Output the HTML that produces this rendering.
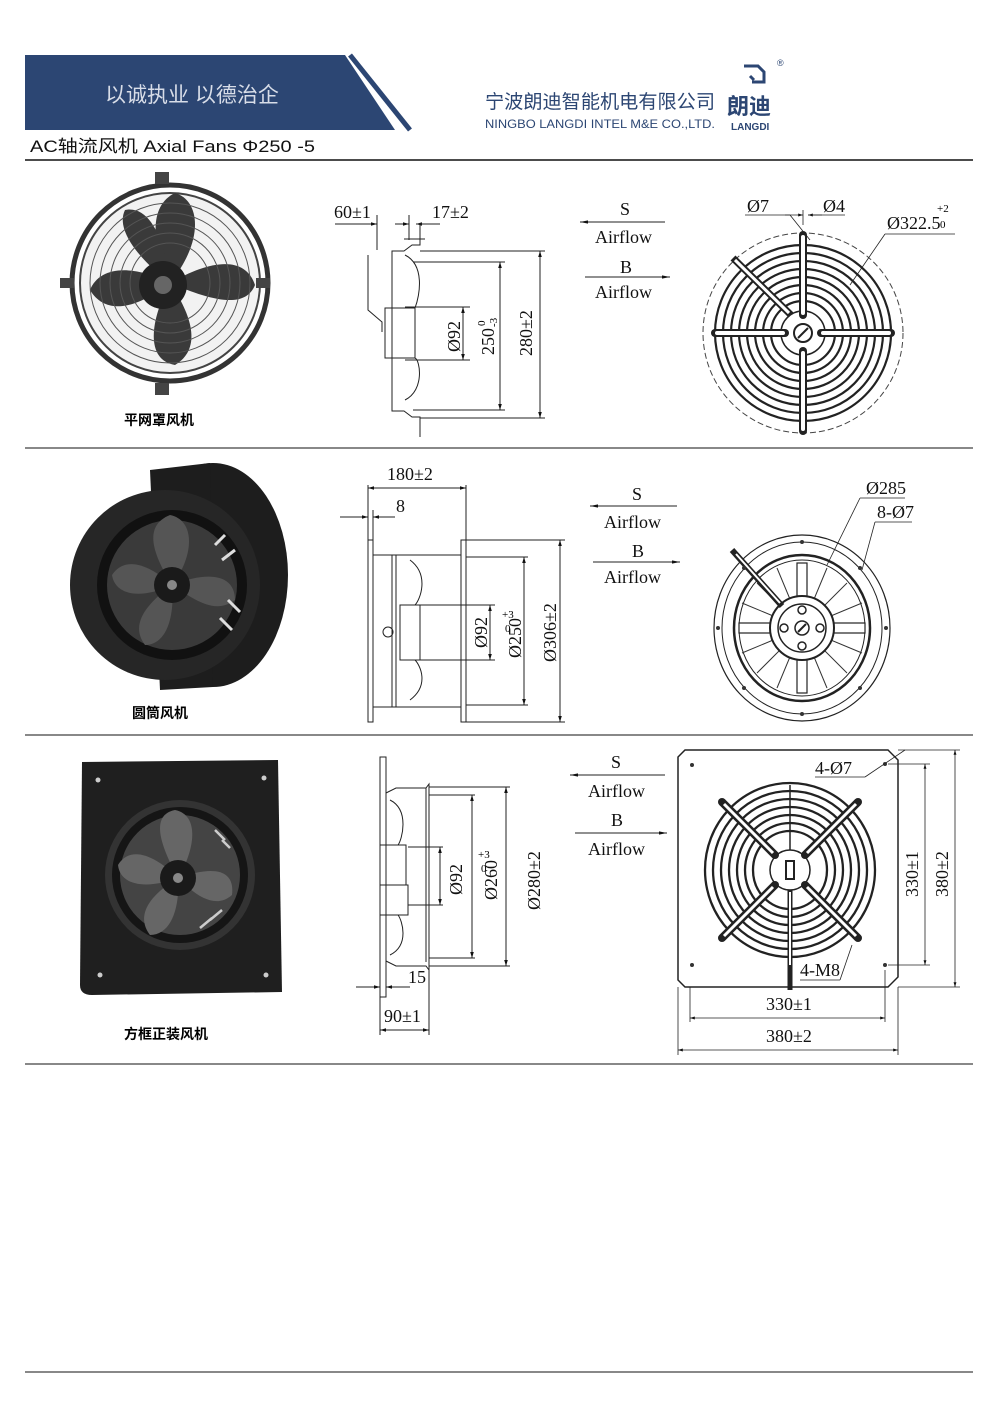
<!DOCTYPE html>
<html><head><meta charset="utf-8"><style>
html,body{margin:0;padding:0;background:#fff}
svg{display:block}
.d{font-family:"Liberation Serif",serif;font-size:18px;fill:#111}
.l{stroke:#222;stroke-width:1;fill:none}
.t{stroke:#222;stroke-width:0.8;fill:none}
</style></head><body>
<svg width="1000" height="1413" viewBox="0 0 1000 1413" xmlns="http://www.w3.org/2000/svg">
<defs>
<marker id="a" viewBox="0 0 10 10" refX="10" refY="5" markerWidth="8" markerHeight="6" orient="auto-start-reverse"><path d="M0,2 L10,5 L0,8z" fill="#111"/></marker>
<marker id="b" viewBox="0 0 10 10" refX="10" refY="5" markerWidth="14" markerHeight="8" orient="auto-start-reverse"><path d="M0,3 L10,5 L0,7z" fill="#111"/></marker>
</defs>
<!-- header -->
<polygon points="25,55 345,55 395,130 25,130" fill="#2c4673"/>
<line x1="350" y1="55" x2="410" y2="130" stroke="#2c4673" stroke-width="5"/>
<text x="105" y="102" font-family="'Liberation Sans','Noto Sans CJK SC',sans-serif" font-size="21" fill="#d8dde8">以诚执业 以德治企</text>
<text x="485" y="108" font-family="'Liberation Sans','Noto Sans CJK SC',sans-serif" font-size="19" fill="#2c4673" textLength="230" lengthAdjust="spacingAndGlyphs">宁波朗迪智能机电有限公司</text>
<text x="485" y="128" font-family="'Liberation Sans',sans-serif" font-size="11.5" fill="#2c4673" textLength="230" lengthAdjust="spacingAndGlyphs">NINGBO LANGDI INTEL M&amp;E CO.,LTD.</text>
<path d="M744,66 h14 l6,6 v10 h-12 M750,76 l4,4" stroke="#2c4673" stroke-width="3" fill="none"/>
<text x="727" y="114" font-family="'Noto Sans CJK SC',sans-serif" font-size="22" font-weight="bold" fill="#2c4673">朗迪</text>
<text x="731" y="130" font-family="'Liberation Sans',sans-serif" font-size="10" font-weight="bold" fill="#2c4673">LANGDI</text>
<text x="777" y="66" font-family="'Liberation Sans',sans-serif" font-size="9" fill="#2c4673">®</text>
<text x="30" y="152" font-family="'Liberation Sans','Noto Sans CJK SC',sans-serif" font-size="17" fill="#111" textLength="285" lengthAdjust="spacingAndGlyphs">AC轴流风机  Axial Fans   Φ250 -5</text>
<line x1="25" y1="160" x2="973" y2="160" stroke="#111" stroke-width="1.5"/>
<line x1="25" y1="448" x2="973" y2="448" stroke="#111" stroke-width="1"/>
<line x1="25" y1="735" x2="973" y2="735" stroke="#111" stroke-width="1"/>
<line x1="25" y1="1064" x2="973" y2="1064" stroke="#111" stroke-width="1"/>
<line x1="25" y1="1372" x2="973" y2="1372" stroke="#111" stroke-width="1"/>

<!-- ============ Section 1 ============ -->
<g>
<circle cx="170" cy="283" r="98" fill="none" stroke="#333" stroke-width="5"/>
<circle cx="170" cy="283" r="90" fill="#f2f2f2" stroke="#444" stroke-width="2"/>
<g fill="#3a3a3a">
<path d="M170,283 C150,240 150,205 175,193 C200,200 205,240 170,283z"/>
<path d="M170,283 C210,260 245,255 255,285 C245,310 210,300 170,283z"/>
<path d="M170,283 C195,320 200,350 175,365 C145,360 150,320 170,283z"/>
<path d="M170,283 C135,310 105,315 90,290 C100,265 135,265 170,283z"/>
<path d="M170,283 C140,260 115,230 125,210 C150,205 165,240 170,283z"/>
</g>
<g fill="none" stroke="#555" stroke-width="1">
<circle cx="170" cy="283" r="80"/><circle cx="170" cy="283" r="70"/><circle cx="170" cy="283" r="60"/><circle cx="170" cy="283" r="50"/><circle cx="170" cy="283" r="40"/>
</g>
<circle cx="163" cy="285" r="24" fill="#222"/><circle cx="163" cy="285" r="9" fill="#666"/>
<rect x="155" y="172" width="14" height="12" fill="#444"/><rect x="155" y="383" width="14" height="12" fill="#444"/>
<rect x="60" y="278" width="14" height="10" fill="#444"/><rect x="256" y="278" width="14" height="10" fill="#444"/>
<text x="124" y="425" font-family="'Noto Sans CJK SC',sans-serif" font-size="14" font-weight="bold">平网罩风机</text>
</g>
<!-- side view 1 -->
<g class="l">
<path d="M420,225 v20 h-8 l-8,6 h-12 v160 h12 l8,6 h8 v20"/>
<line x1="392" y1="251" x2="392" y2="411" stroke-dasharray="2,2"/>
<path d="M368,255 v55 l14,12 v10"/>
<path d="M385,308 h30 v50 h-30 z" />
<path d="M405,255 c20,10 15,40 10,53 M405,400 c20,-10 15,-40 10,-42"/>
<line x1="404" y1="239" x2="425" y2="239"/>
<line x1="420" y1="251" x2="545" y2="251"/>
<line x1="413" y1="262" x2="505" y2="262"/>
<line x1="413" y1="410" x2="505" y2="410"/>
<line x1="420" y1="418" x2="545" y2="418"/>
<line x1="405" y1="307" x2="470" y2="307"/>
<line x1="405" y1="360" x2="470" y2="360"/>
<line x1="377" y1="215" x2="377" y2="250"/><line x1="409" y1="215" x2="409" y2="240"/>
<line x1="335" y1="224" x2="377" y2="224" marker-end="url(#a)"/>
<line x1="395" y1="224" x2="409" y2="224" marker-end="url(#a)"/>
<line x1="430" y1="224" x2="416" y2="224" marker-end="url(#a)"/>
<line x1="416" y1="224" x2="440" y2="224"/>
<line x1="463" y1="307" x2="463" y2="360" marker-start="url(#a)" marker-end="url(#a)"/>
<line x1="500" y1="262" x2="500" y2="410" marker-start="url(#a)" marker-end="url(#a)"/>
<line x1="540" y1="251" x2="540" y2="418" marker-start="url(#a)" marker-end="url(#a)"/>
</g>
<text class="d" x="334" y="218">60±1</text>
<text class="d" x="432" y="218">17±2</text>
<text class="d" transform="translate(460,352) rotate(-90)">Ø92</text>
<g transform="translate(494,355) rotate(-90)"><text class="d" x="0" y="0">250</text><text x="29" y="-9" font-family="Liberation Serif" font-size="11">0</text><text x="28" y="3" font-family="Liberation Serif" font-size="11">-3</text></g>
<text class="d" transform="translate(532,356) rotate(-90)">280±2</text>
<!-- airflow 1 -->
<text class="d" x="620" y="215">S</text>
<line x1="665" y1="222" x2="580" y2="222" class="l" marker-end="url(#b)"/>
<text class="d" x="595" y="243">Airflow</text>
<text class="d" x="620" y="273">B</text>
<line x1="585" y1="277" x2="670" y2="277" class="l" marker-end="url(#b)"/>
<text class="d" x="595" y="298">Airflow</text>
<!-- front 1 -->
<g transform="translate(803,333)">
<circle r="100" fill="none" stroke="#444" stroke-dasharray="6,3"/>
<g fill="none" stroke="#222" stroke-width="2.2">
<circle r="88"/><circle r="80"/><circle r="72"/><circle r="64"/><circle r="56"/><circle r="48"/><circle r="40"/><circle r="32"/>
</g>
<circle r="22" fill="#fff" stroke="#222" stroke-width="1.5"/>
<g stroke="#222" stroke-width="8" stroke-linecap="round"><line x1="0" y1="-18" x2="0" y2="-98"/><line x1="0" y1="18" x2="0" y2="98"/><line x1="-18" y1="0" x2="-88" y2="0"/><line x1="18" y1="0" x2="88" y2="0"/></g>
<g stroke="#fff" stroke-width="4" stroke-linecap="round"><line x1="0" y1="-20" x2="0" y2="-96"/><line x1="0" y1="20" x2="0" y2="96"/><line x1="-20" y1="0" x2="-86" y2="0"/><line x1="20" y1="0" x2="86" y2="0"/></g>
<line x1="-70" y1="-75" x2="-12" y2="-18" stroke="#222" stroke-width="7"/><line x1="-68" y1="-73" x2="-14" y2="-20" stroke="#fff" stroke-width="3"/>
<circle r="9" fill="#fff" stroke="#222" stroke-width="2"/><line x1="-5" y1="5" x2="5" y2="-5" stroke="#222" stroke-width="2"/>
</g>
<g class="t">
<line x1="745" y1="215" x2="790" y2="215"/><line x1="790" y1="215" x2="810" y2="240"/>
<line x1="785" y1="215" x2="803" y2="215" marker-end="url(#a)"/><line x1="822" y1="215" x2="808" y2="215" marker-end="url(#a)"/><line x1="808" y1="215" x2="845" y2="215"/>
<line x1="803" y1="210" x2="803" y2="225"/>
<line x1="885" y1="234" x2="955" y2="234"/><line x1="885" y1="234" x2="850" y2="285"/>
</g>
<text class="d" x="747" y="212">Ø7</text>
<text class="d" x="823" y="212">Ø4</text>
<text class="d" x="887" y="229">Ø322.5</text><text x="937" y="212" font-family="Liberation Serif" font-size="11">+2</text><text x="940" y="228" font-family="Liberation Serif" font-size="11">0</text>

<!-- ============ Section 2 ============ -->
<g>
<ellipse cx="213" cy="575" rx="75" ry="112" fill="#1d1d1d"/>
<path d="M150,470 L210,463 L213,687 L160,690 z" fill="#1d1d1d"/>
<circle cx="165" cy="585" r="95" fill="#262626"/>
<circle cx="172" cy="585" r="75" fill="#111"/>
<circle cx="172" cy="585" r="65" fill="#3a3a3a"/>
<g fill="#555">
<path d="M172,585 C150,550 145,525 170,515 C195,520 195,555 172,585z"/>
<path d="M172,585 C210,570 235,575 235,600 C215,615 195,600 172,585z"/>
<path d="M172,585 C175,620 165,645 145,645 C130,625 145,605 172,585z"/>
<path d="M172,585 C140,600 115,595 112,575 C125,555 150,565 172,585z"/>
</g>
<g stroke="#ddd" stroke-width="3"><line x1="215" y1="545" x2="225" y2="535"/><line x1="222" y1="560" x2="235" y2="550"/><line x1="228" y1="600" x2="240" y2="612"/><line x1="220" y1="618" x2="232" y2="630"/></g>
<circle cx="172" cy="585" r="18" fill="#1a1a1a"/><circle cx="172" cy="585" r="5" fill="#888"/>
<text x="132" y="718" font-family="'Noto Sans CJK SC',sans-serif" font-size="14" font-weight="bold">圆筒风机</text>
</g>
<g class="l">
<rect x="368" y="540" width="5" height="182"/><rect x="461" y="540" width="5" height="182"/>
<line x1="373" y1="555" x2="461" y2="555"/><line x1="373" y1="707" x2="461" y2="707"/>
<line x1="392" y1="555" x2="392" y2="707"/><line x1="396" y1="555" x2="396" y2="707"/>
<path d="M400,605 h20 v55 h-20z"/><path d="M410,560 c20,15 10,40 5,45 M410,700 c20,-15 10,-35 5,-40"/>
<circle cx="388" cy="632" r="5"/>
<line x1="368" y1="485" x2="368" y2="540"/><line x1="466" y1="485" x2="466" y2="540"/>
<line x1="368" y1="488" x2="466" y2="488" marker-start="url(#a)" marker-end="url(#a)"/>
<line x1="340" y1="517" x2="368" y2="517" marker-end="url(#a)"/><line x1="395" y1="517" x2="373" y2="517" marker-end="url(#a)"/>
<line x1="373" y1="510" x2="373" y2="540"/>
<line x1="466" y1="540" x2="565" y2="540"/><line x1="466" y1="722" x2="565" y2="722"/>
<line x1="466" y1="557" x2="528" y2="557"/><line x1="466" y1="705" x2="528" y2="705"/>
<line x1="420" y1="605" x2="495" y2="605"/><line x1="420" y1="660" x2="495" y2="660"/>
<line x1="490" y1="605" x2="490" y2="660" marker-start="url(#a)" marker-end="url(#a)"/>
<line x1="524" y1="557" x2="524" y2="705" marker-start="url(#a)" marker-end="url(#a)"/>
<line x1="560" y1="540" x2="560" y2="722" marker-start="url(#a)" marker-end="url(#a)"/>
</g>
<text class="d" x="387" y="480">180±2</text>
<text class="d" x="396" y="512">8</text>
<text class="d" transform="translate(487,648) rotate(-90)">Ø92</text>
<text class="d" transform="translate(521,658) rotate(-90)">Ø250</text><text x="502" y="618" font-family="Liberation Serif" font-size="11">+3</text><text x="505" y="632" font-family="Liberation Serif" font-size="11">0</text>
<text class="d" transform="translate(556,662) rotate(-90)">Ø306±2</text>
<text class="d" x="632" y="500">S</text>
<line x1="677" y1="506" x2="590" y2="506" class="l" marker-end="url(#b)"/>
<text class="d" x="604" y="528">Airflow</text>
<text class="d" x="632" y="557">B</text>
<line x1="593" y1="562" x2="680" y2="562" class="l" marker-end="url(#b)"/>
<text class="d" x="604" y="583">Airflow</text>
<g transform="translate(802,628)">
<ellipse rx="88" ry="93" fill="none" stroke="#222" stroke-width="1.2"/>
<ellipse rx="80" ry="86" fill="none" stroke="#222" stroke-width="1"/>
<ellipse rx="68" ry="73" fill="none" stroke="#222" stroke-width="2.5"/>
<ellipse rx="63" ry="68" fill="none" stroke="#222" stroke-width="1"/>
<g stroke="#333" stroke-width="1"><line x1="0" y1="-65" x2="0" y2="65"/><line x1="-60" y1="0" x2="60" y2="0"/><line x1="-45" y1="-45" x2="45" y2="45"/><line x1="45" y1="-45" x2="-45" y2="45"/><line x1="-25" y1="-60" x2="25" y2="60"/><line x1="25" y1="-60" x2="-25" y2="60"/><line x1="-60" y1="-25" x2="60" y2="25"/><line x1="60" y1="-25" x2="-60" y2="25"/></g>
<g fill="#fff" stroke="#222" stroke-width="1.2"><rect x="-5" y="-65" width="10" height="130"/><rect x="-63" y="-5" width="126" height="10"/></g>
<circle r="32" fill="#fff" stroke="#222" stroke-width="2"/><circle r="24" fill="#fff" stroke="#222" stroke-width="1.5"/>
<circle r="7" fill="#fff" stroke="#222" stroke-width="1.5"/><line x1="-4" y1="4" x2="4" y2="-4" stroke="#222" stroke-width="2"/>
<g fill="#fff" stroke="#222" stroke-width="1.5"><circle cx="0" cy="-18" r="4"/><circle cx="0" cy="18" r="4"/><circle cx="-18" cy="0" r="4"/><circle cx="18" cy="0" r="4"/></g>
<line x1="-70" y1="-78" x2="-20" y2="-22" stroke="#222" stroke-width="6"/><line x1="-66" y1="-74" x2="-22" y2="-25" stroke="#fff" stroke-width="2"/>
<g fill="#333"><circle cx="0" cy="-86" r="2"/><circle cx="0" cy="86" r="2"/><circle cx="-84" cy="0" r="2"/><circle cx="84" cy="0" r="2"/><circle cx="58" cy="-60" r="2"/><circle cx="-58" cy="60" r="2"/><circle cx="58" cy="60" r="2"/><circle cx="-58" cy="-60" r="2"/></g>
</g>
<g class="t"><line x1="860" y1="498" x2="905" y2="498"/><line x1="860" y1="498" x2="827" y2="565"/><line x1="875" y1="522" x2="912" y2="522"/><line x1="875" y1="522" x2="862" y2="570"/></g>
<text class="d" x="866" y="494">Ø285</text>
<text class="d" x="877" y="518">8-Ø7</text>

<!-- ============ Section 3 ============ -->
<g>
<path d="M82,762 L278,760 L282,992 L92,995 Q80,995 80,985 z" fill="#1f1f1f"/>
<circle cx="180" cy="875" r="75" fill="#333"/>
<circle cx="180" cy="875" r="68" fill="#151515"/>
<circle cx="180" cy="875" r="60" fill="#444"/>
<g fill="#666">
<path d="M178,878 C160,845 150,815 175,810 C200,815 195,850 178,878z"/>
<path d="M178,878 C215,865 235,870 232,895 C215,910 195,895 178,878z"/>
<path d="M178,878 C180,910 170,935 150,935 C135,915 150,895 178,878z"/>
<path d="M178,878 C145,890 120,885 118,865 C130,845 155,855 178,878z"/>
</g>
<g stroke="#ccc" stroke-width="2.5"><line x1="215" y1="830" x2="225" y2="840"/><line x1="222" y1="840" x2="230" y2="848"/><line x1="210" y1="920" x2="222" y2="910"/><line x1="200" y1="928" x2="212" y2="918"/></g>
<circle cx="178" cy="878" r="18" fill="#1a1a1a"/><circle cx="178" cy="878" r="5" fill="#888"/>
<g fill="#ccc"><circle cx="98" cy="780" r="2.5"/><circle cx="264" cy="778" r="2.5"/><circle cx="100" cy="975" r="2.5"/><circle cx="266" cy="975" r="2.5"/></g>
<text x="124" y="1039" font-family="'Noto Sans CJK SC',sans-serif" font-size="14" font-weight="bold">方框正装风机</text>
</g>
<g class="l">
<path d="M380,757 h6 v240 h-6 z"/>
<path d="M386,793 l10,-5 h30 l3,-4 v186 l-3,-4 h-30 l-10,-5"/>
<line x1="426" y1="788" x2="426" y2="962"/>
<path d="M380,845 h26 v40 h-26 M380,885 h28 v30 h-28"/>
<path d="M390,800 c20,10 12,40 8,45 M390,955 c20,-10 12,-35 8,-40"/>
<line x1="429" y1="787" x2="510" y2="787"/><line x1="429" y1="966" x2="510" y2="966"/>
<line x1="429" y1="795" x2="475" y2="795"/><line x1="429" y1="958" x2="475" y2="958"/>
<line x1="408" y1="847" x2="443" y2="847"/><line x1="408" y1="905" x2="443" y2="905"/>
<line x1="440" y1="847" x2="440" y2="905" marker-start="url(#a)" marker-end="url(#a)"/>
<line x1="472" y1="795" x2="472" y2="958" marker-start="url(#a)" marker-end="url(#a)"/>
<line x1="506" y1="787" x2="506" y2="966" marker-start="url(#a)" marker-end="url(#a)"/>
<line x1="356" y1="987" x2="380" y2="987" marker-end="url(#a)"/><line x1="410" y1="987" x2="386" y2="987" marker-end="url(#a)"/>
<line x1="380" y1="997" x2="380" y2="1035"/><line x1="429" y1="970" x2="429" y2="1035"/>
<line x1="380" y1="1030" x2="429" y2="1030" marker-start="url(#a)" marker-end="url(#a)"/>
</g>
<text class="d" x="408" y="983">15</text>
<text class="d" x="384" y="1022">90±1</text>
<text class="d" transform="translate(462,895) rotate(-90)">Ø92</text>
<text class="d" transform="translate(497,900) rotate(-90)">Ø260</text><text x="478" y="858" font-family="Liberation Serif" font-size="11">+3</text><text x="481" y="872" font-family="Liberation Serif" font-size="11">0</text>
<text class="d" transform="translate(540,910) rotate(-90)">Ø280±2</text>
<text class="d" x="611" y="768">S</text>
<line x1="665" y1="775" x2="570" y2="775" class="l" marker-end="url(#b)"/>
<text class="d" x="588" y="797">Airflow</text>
<text class="d" x="611" y="826">B</text>
<line x1="575" y1="833" x2="667" y2="833" class="l" marker-end="url(#b)"/>
<text class="d" x="588" y="855">Airflow</text>
<path d="M685,750 H888 L898,760 V977 L888,987 H685 L678,980 V757 z" fill="none" stroke="#222" stroke-width="1.5"/>
<g fill="#333"><circle cx="692" cy="765" r="2"/><circle cx="885" cy="764" r="2"/><circle cx="692" cy="965" r="2"/><circle cx="885" cy="965" r="2"/></g>
<g transform="translate(790,870)">
<g fill="none" stroke="#222" stroke-width="2.3">
<ellipse rx="85" ry="87"/><ellipse rx="77" ry="79"/><ellipse rx="69" ry="71"/><ellipse rx="61" ry="63"/><ellipse rx="53" ry="55"/><ellipse rx="45" ry="47"/><ellipse rx="37" ry="39"/>
</g>
<circle r="20" fill="#fff" stroke="#222" stroke-width="1.5"/>
<g stroke="#222" stroke-width="8" stroke-linecap="round"><line x1="-15" y1="-15" x2="-68" y2="-68"/><line x1="15" y1="-15" x2="68" y2="-68"/><line x1="-15" y1="15" x2="-68" y2="68"/><line x1="15" y1="15" x2="68" y2="68"/></g>
<g stroke="#fff" stroke-width="3"><line x1="-17" y1="-17" x2="-66" y2="-66"/><line x1="17" y1="-17" x2="66" y2="-66"/><line x1="-17" y1="17" x2="-66" y2="66"/><line x1="17" y1="17" x2="66" y2="66"/></g>
<line x1="0" y1="20" x2="0" y2="120" stroke="#222" stroke-width="5"/><line x1="0" y1="22" x2="0" y2="95" stroke="#fff" stroke-width="2"/>
<line x1="0" y1="-20" x2="0" y2="-85" stroke="#222" stroke-width="1.5"/>
<rect x="-4" y="-9" width="8" height="18" fill="#fff" stroke="#222" stroke-width="2"/>
</g>
<g class="t">
<line x1="690" y1="987" x2="690" y2="1022"/><line x1="885" y1="970" x2="885" y2="1022"/>
<line x1="690" y1="1018" x2="885" y2="1018" marker-start="url(#a)" marker-end="url(#a)"/>
<line x1="678" y1="987" x2="678" y2="1055"/><line x1="898" y1="987" x2="898" y2="1055"/>
<line x1="678" y1="1050" x2="898" y2="1050" marker-start="url(#a)" marker-end="url(#a)"/>
<line x1="888" y1="764" x2="930" y2="764"/><line x1="888" y1="965" x2="930" y2="965"/>
<line x1="925" y1="764" x2="925" y2="965" marker-start="url(#a)" marker-end="url(#a)"/>
<line x1="898" y1="750" x2="960" y2="750"/><line x1="898" y1="987" x2="960" y2="987"/>
<line x1="955" y1="750" x2="955" y2="987" marker-start="url(#a)" marker-end="url(#a)"/>
<line x1="815" y1="777" x2="865" y2="777"/><line x1="865" y1="777" x2="905" y2="750"/>
<line x1="800" y1="980" x2="840" y2="980"/><line x1="840" y1="980" x2="852" y2="945"/>
</g>
<text class="d" x="815" y="774">4-Ø7</text>
<text class="d" x="800" y="976">4-M8</text>
<text class="d" x="766" y="1010">330±1</text>
<text class="d" x="766" y="1042">380±2</text>
<text class="d" transform="translate(918,897) rotate(-90)">330±1</text>
<text class="d" transform="translate(948,897) rotate(-90)">380±2</text>
</svg>
</body></html>
